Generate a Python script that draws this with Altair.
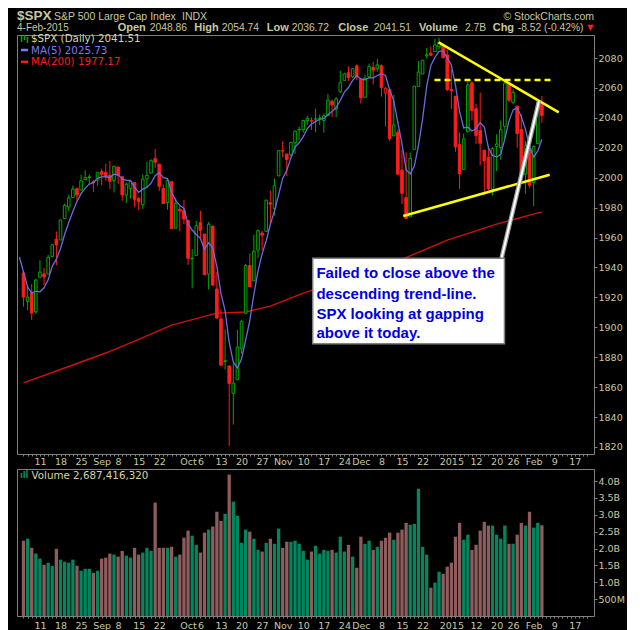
import json
import altair as alt
import pandas as pd

# ---------------- data (S&P 500 daily, 5-Aug-2014 .. 4-Feb-2015) ----------------
pre_closes = [1969.95, 1970.07, 1930.67, 1925.15, 1938.99]  # 29-Jul .. 4-Aug, only feed MA(5)

opens = [
    1936.34, 1917.29, 1923.03, 1910.35, 1933.43, 1935.73, 1935.60, 1947.41, 1958.87, 1958.36,
    1972.73, 1980.46, 1986.82, 1992.60, 1991.74, 1998.59, 2000.54, 1997.42, 1998.45,
    2004.07, 2003.57, 2001.67, 1998.00, 2007.17, 2000.73, 1988.41, 1992.85, 1996.74, 1986.04,
    1981.93, 1999.30, 2003.07, 2012.74, 2009.08, 1992.78, 1983.34, 1997.32, 1966.22, 1978.96, 1978.21,
    1971.44, 1945.83, 1948.12, 1970.01, 1962.36, 1935.55, 1967.68, 1925.63, 1905.65, 1877.11,
    1874.18, 1855.95, 1864.91, 1885.62, 1909.38, 1941.29, 1931.02, 1951.59, 1962.97, 1964.14,
    1983.29, 1979.49, 2001.20,
    2018.21, 2015.81, 2015.29, 2023.33, 2032.36, 2032.01, 2038.20, 2037.75, 2039.21, 2039.74,
    2038.29, 2041.48, 2051.16, 2045.87, 2057.46, 2065.07, 2070.15, 2067.36, 2074.78,
    2065.78, 2053.77, 2067.45, 2073.64, 2072.78, 2074.84, 2056.55, 2058.86, 2027.92, 2030.36,
    2005.03, 1986.71, 1973.77, 2018.98, 2061.04, 2069.28, 2081.48, 2083.25, 2084.30, 2087.63,
    2088.49, 2082.11,
    2058.90, 2054.44, 2022.15, 2005.55, 2030.61, 2063.45, 2046.13, 2031.58, 2018.40, 2013.75,
    1992.25, 2020.76, 2020.19, 2034.30, 2062.98, 2050.42, 2047.86, 2032.34, 2002.45, 2019.35,
    1996.67, 2022.71, 2048.86,
]
highs = [
    1936.34, 1927.91, 1928.89, 1932.38, 1944.90, 1939.65, 1948.41, 1955.23, 1964.04, 1971.99,
    1982.57, 1988.57, 1994.76, 1993.54, 2001.95, 2005.04, 2002.14, 1998.55, 2003.38,
    2006.12, 2009.28, 2011.17, 2007.71, 2007.17, 2001.01, 1996.66, 1997.65, 1996.74, 1987.18,
    2002.28, 2010.74, 2012.34, 2019.26, 2009.08, 1995.41, 1999.79, 1997.32, 1986.37, 1981.28, 1985.17,
    1971.44, 1952.32, 1971.19, 1977.84, 1962.36, 1970.36, 1967.68, 1936.98, 1912.09, 1898.71,
    1874.18, 1876.01, 1898.16, 1905.03, 1942.45, 1949.31, 1961.95, 1965.27, 1964.64, 1985.05,
    1991.40, 1999.40, 2018.19,
    2024.46, 2015.98, 2023.77, 2031.61, 2034.26, 2038.70, 2041.28, 2040.33, 2046.18, 2042.22,
    2043.07, 2056.08, 2052.14, 2053.84, 2071.46, 2070.17, 2074.21, 2073.29, 2075.76,
    2065.78, 2068.77, 2076.28, 2077.34, 2079.47, 2075.78, 2060.60, 2058.86, 2055.53, 2032.25,
    2018.69, 2016.89, 2016.75, 2061.23, 2077.85, 2078.76, 2086.73, 2087.56, 2092.70, 2093.55,
    2088.49, 2085.58,
    2072.36, 2054.44, 2030.25, 2029.61, 2064.08, 2064.43, 2049.30, 2056.93, 2018.40, 2021.35,
    2020.46, 2028.94, 2038.29, 2064.62, 2062.98, 2058.90, 2047.86, 2042.49, 2024.64, 2023.32,
    2021.66, 2050.30, 2054.74,
]
lows = [
    1913.77, 1911.45, 1904.78, 1909.01, 1933.43, 1928.29, 1935.60, 1947.41, 1941.50, 1958.36,
    1972.73, 1977.68, 1986.82, 1984.76, 1991.74, 1998.59, 1996.20, 1990.52, 1994.65,
    1994.85, 1998.14, 1992.44, 1990.10, 1995.60, 1984.61, 1982.99, 1985.93, 1980.26, 1978.48,
    1979.06, 1993.29, 2003.07, 2006.59, 1991.01, 1982.77, 1978.63, 1965.99, 1966.22, 1964.04, 1968.96,
    1941.72, 1926.03, 1948.12, 1958.43, 1935.10, 1925.25, 1927.56, 1906.05, 1874.14, 1871.79,
    1820.66, 1835.02, 1864.91, 1882.30, 1909.38, 1926.83, 1931.02, 1946.27, 1951.37, 1964.14,
    1969.04, 1974.75, 2001.20,
    2013.68, 2001.01, 2014.42, 2015.86, 2025.07, 2030.17, 2035.28, 2031.95, 2030.44, 2035.20,
    2030.20, 2041.48, 2040.37, 2040.49, 2056.75, 2065.07, 2064.75, 2066.62, 2065.06,
    2049.57, 2053.77, 2066.65, 2062.34, 2070.81, 2054.27, 2034.17, 2024.26, 2027.92, 2002.33,
    1982.26, 1972.56, 1973.77, 2018.98, 2061.03, 2069.28, 2079.77, 2081.86, 2084.30, 2085.75,
    2079.53, 2057.94,
    2046.04, 2017.34, 1992.44, 2005.55, 2030.61, 2038.33, 2022.58, 2008.25, 1988.44, 1991.47,
    1988.12, 2004.49, 2012.04, 2026.38, 2050.54, 2049.17, 2019.91, 2001.49, 1989.18, 1993.38,
    1980.90, 2022.71, 2036.72,
]
closes = [
    1920.21, 1920.24, 1909.57, 1931.59, 1936.92, 1933.75, 1946.72, 1955.18, 1955.06, 1971.74,
    1981.60, 1986.51, 1992.37, 1988.40, 1997.92, 2000.02, 2000.12, 1996.74, 2003.37,
    2002.28, 2000.72, 1997.65, 2007.71, 2001.54, 1988.44, 1995.69, 1997.45, 1985.54, 1984.13,
    1998.98, 2001.57, 2011.36, 2010.40, 1994.29, 1982.77, 1998.30, 1965.99, 1982.85, 1977.80, 1972.29,
    1946.16, 1946.17, 1967.90, 1964.82, 1935.10, 1968.89, 1928.21, 1906.13, 1874.74, 1877.70,
    1862.49, 1862.76, 1886.76, 1904.01, 1941.28, 1927.11, 1950.82, 1964.58, 1961.63, 1985.05,
    1982.30, 1994.65, 2018.05,
    2017.81, 2012.10, 2023.57, 2031.21, 2031.92, 2038.26, 2039.68, 2038.25, 2039.33, 2039.82,
    2041.32, 2051.80, 2048.72, 2052.75, 2063.50, 2069.41, 2067.03, 2072.83, 2067.56,
    2053.44, 2066.55, 2074.33, 2071.92, 2075.37, 2060.31, 2059.82, 2026.14, 2035.33, 2002.33,
    1989.63, 1972.74, 2012.89, 2061.23, 2070.65, 2078.54, 2082.17, 2081.88, 2088.77, 2090.57,
    2080.35, 2058.90,
    2058.20, 2020.58, 2002.61, 2025.90, 2062.14, 2044.81, 2028.26, 2023.03, 2011.27, 1992.67,
    2019.42, 2022.55, 2032.12, 2063.15, 2051.82, 2057.09, 2029.55, 2002.16, 2021.25, 1994.99,
    2020.85, 2050.03, 2041.51,
]
volumes_b = [
    2.23, 2.29, 2.02, 1.85, 1.70, 1.52, 1.58, 1.48, 1.99, 1.67,
    1.61, 1.58, 1.67, 1.49, 1.34, 1.40, 1.40, 1.28, 1.34, 1.70,
    1.73, 1.85, 1.82, 1.76, 1.93, 1.79, 1.73, 2.02, 1.82, 1.88,
    2.02, 1.93, 3.36, 2.02, 2.02, 2.02, 2.05, 1.76, 1.82, 2.32,
    2.53, 2.38, 2.11, 1.88, 2.47, 2.56, 2.65, 3.09, 2.82, 3.03,
    4.19, 3.39, 2.97, 2.17, 2.56, 2.50, 2.29, 1.96, 1.91, 2.17,
    2.29, 2.14, 2.59, 2.02, 2.20, 2.20, 2.23, 2.14, 1.93, 1.67,
    1.91, 2.08, 1.85, 1.96, 1.93, 1.96, 1.88, 2.35, 1.91, 2.11,
    1.76, 1.43, 2.35, 2.14, 2.23, 1.96, 2.05, 2.23, 2.32, 2.47,
    2.26, 2.47, 2.56, 2.76, 2.70, 2.73, 3.77, 2.05, 1.82, 0.84,
    0.99, 1.31, 1.25, 1.46, 1.58, 2.35, 2.76, 2.26, 2.41, 1.96,
    2.11, 2.53, 2.79, 2.68, 2.68, 2.41, 2.29, 2.68, 2.14, 2.14,
    2.41, 2.76, 2.68, 3.09, 2.62, 2.76, 2.687,
]

# 200-day moving average (trading-day index, value)
ma200_i = [0, 10, 20, 27, 36, 47, 54, 60, 68, 79, 91, 103, 115, 126]
ma200_v = [1862.8, 1872.8, 1882.8, 1890.8, 1901.5, 1909.5, 1910.2, 1914.2, 1922.9,
           1932.9, 1944.3, 1958.3, 1969.0, 1977.17]

# date axis (trading-day index of the labelled day)
tick_idx = [4, 9, 14, 19, 23, 28, 33, 40, 43, 48, 53, 58, 63, 68, 73, 78, 82, 87, 92, 97,
            104, 110, 115, 119, 124, 129, 134]
tick_lbl = ['11', '18', '25', 'Sep', '8', '15', '22', 'Oct', '6', '13', '20', '27', 'Nov',
            '10', '17', '24', 'Dec', '8', '15', '22', '2015', '12', '20', '26', 'Feb', '9', '17']
bold_lbl = ['Sep', 'Oct', 'Nov', 'Dec', '2015', 'Feb']

# hand-drawn annotations (trading-day index, price)
desc_i, desc_p = [100.9, 130.1], [2090.5, 2043.7]
flat_i, flat_p = [99.9, 128.9], [2065.3, 2065.3]
asc_i, asc_p = [92.3, 127.9], [1974.4, 2002.0]
arrow_i, arrow_p = [116.2, 125.3], [1946.3, 2051.3]
box_i, box_p = [70.3, 116.9], [1889.0, 1946.1]
note_lines = ["Failed to close above the", "descending trend-line.",
              "SPX looking at gapping", "above it today."]
note_i = 71.2
note_p = [1936.3, 1922.3, 1908.9, 1896.2]

assert len(opens) == len(highs) == len(lows) == len(closes) == len(volumes_b) == 127

# ---------------- styling ----------------
BG = "#000000"
KHAKI = "#C8C8A0"
FRAME = "#808080"
UPC, DNC = "#00A800", "#FF1C1C"
VUP, VDN = "#00875F", "#8E5C5C"
MA5C, MA200C = "#6B6BE0", "#D01010"
YEL = "#FFFF00"
W = 577
H_PRICE, H_VOL = 419, 147

N = len(closes)
prev = [pre_closes[-1]] + closes[:-1]
up = [c >= p for c, p in zip(closes, prev)]
cdf = pd.DataFrame({
    "i": list(range(N)), "open": opens, "high": highs, "low": lows, "close": closes,
    "col": [UPC if u else DNC for u in up],
    "vol": [v * 1e9 for v in volumes_b],
    "vcol": [VUP if u else VDN for u in up],
})
cdf["fillc"] = [BG if c > o else k for c, o, k in zip(closes, opens, cdf["col"])]

ma_df = pd.DataFrame({"i": list(range(-len(pre_closes), 0)) + list(range(N)),
                      "close": pre_closes + closes})
ma200_df = pd.DataFrame({"i": ma200_i, "p": ma200_v})

LEXPR = (f"indexof({json.dumps(tick_idx)}, datum.value) >= 0 ? "
         f"{json.dumps(tick_lbl)}[indexof({json.dumps(tick_idx)}, datum.value)] : ''")
FW = {"condition": {"test": f"indexof({json.dumps(bold_lbl)}, datum.label) >= 0",
                    "value": "bold"}, "value": "normal"}

XS = alt.Scale(domain=[-0.36, 137.45], nice=False, zero=False)


def xaxis(pad):
    return alt.Axis(values=list(range(0, 138)), labelExpr=LEXPR, labelFontWeight=FW,
                    ticks=True, tickSize=2, tickColor=FRAME, labelColor=KHAKI,
                    labelFont="DejaVu Sans", labelFontSize=9.5, labelPadding=pad,
                    domain=False, grid=False, title=None, labelOverlap=False,
                    labelAngle=0, labelBound=False, labelFlush=False, labelBaseline="top")


XP = alt.X("i:Q", scale=XS, axis=xaxis(0))
XV = alt.X("i:Q", scale=XS, axis=xaxis(2))

YS = alt.Scale(domain=[1815.3, 2095.4], nice=False, zero=False)
yaxis = alt.Axis(values=list(range(1820, 2081, 20)), orient="right", format="d", tickSize=3,
                 tickColor=FRAME, labelColor=KHAKI, labelFont="DejaVu Sans",
                 labelFontSize=9.5, labelPadding=1, domain=False, grid=False, title=None)


def Y(f):
    return alt.Y(f"{f}:Q", scale=YS, axis=yaxis)


def seg(ii, pp):
    return pd.DataFrame({"i": ii, "p": pp})


# ---------------- price panel ----------------
ma200 = alt.Chart(ma200_df).mark_line(color=MA200C, strokeWidth=1.4, clip=True).encode(
    x=XP, y=Y("p"))
wicks = alt.Chart(cdf).mark_rule(strokeWidth=1, clip=True).encode(
    x=XP, y=Y("low"), y2="high", color=alt.Color("col:N", scale=None))
bodies = alt.Chart(cdf).mark_bar(size=2.6, strokeWidth=1, clip=True).encode(
    x=XP, y=Y("open"), y2="close",
    fill=alt.Fill("fillc:N", scale=None), stroke=alt.Stroke("col:N", scale=None))
ma5 = alt.Chart(ma_df).transform_window(
    ma="mean(close)", frame=[-4, 0], sort=[alt.SortField("i")]
).transform_filter("datum.i >= -1").mark_line(
    color=MA5C, strokeWidth=1.3, clip=True).encode(x=XP, y=Y("ma"))

desc = alt.Chart(seg(desc_i, desc_p)).mark_line(color=YEL, strokeWidth=2.5).encode(x=XP, y=Y("p"))
flat = alt.Chart(seg(flat_i, flat_p)).mark_line(color=YEL, strokeWidth=2.5, strokeDash=[6, 4]).encode(x=XP, y=Y("p"))
asc = alt.Chart(seg(asc_i, asc_p)).mark_line(color=YEL, strokeWidth=2.5).encode(x=XP, y=Y("p"))
arrow_o = alt.Chart(seg(arrow_i, arrow_p)).mark_line(color="#9A9A9A", strokeWidth=4.5).encode(x=XP, y=Y("p"))
arrow_w = alt.Chart(seg(arrow_i, arrow_p)).mark_line(color="#FFFFFF", strokeWidth=2).encode(x=XP, y=Y("p"))
box = alt.Chart(pd.DataFrame({"i": [box_i[0]], "i2": [box_i[1]], "p": [box_p[0]], "p2": [box_p[1]]})
                ).mark_rect(fill="#FFFFFF", stroke=FRAME, strokeWidth=1.5).encode(
    x=XP, x2="i2", y=Y("p"), y2="p2")
note = alt.Chart(pd.DataFrame({"i": [note_i] * 4, "p": note_p, "t": note_lines})).mark_text(
    align="left", baseline="middle", font="Liberation Sans", fontWeight="bold",
    fontSize=15, color="#0000E0").encode(x=XP, y=Y("p"), text="t:N")

one = pd.DataFrame({"a": [0]})


def ptext(txt, x, y, color, size=11, font="DejaVu Sans", weight="normal", align="left",
          baseline="middle"):
    return alt.Chart(one).mark_text(text=txt, color=color, fontSize=size, font=font,
                                    fontWeight=weight, align=align, baseline=baseline
                                    ).encode(x=alt.value(x), y=alt.value(y))


def pline(x1, x2, y1, y2, color, w):
    return alt.Chart(one).mark_rule(color=color, strokeWidth=w).encode(
        x=alt.value(x1), x2=alt.value(x2), y=alt.value(y1), y2=alt.value(y2))


legend_price = [
    pline(4.5, 4.5, 1, 7, UPC, 1.5), pline(7.5, 7.5, 0, 5, UPC, 1.5), pline(10.5, 10.5, 2, 8, UPC, 1.5),
    ptext("$SPX (Daily) 2041.51", 14, 4.2, "#D4D4AC", size=10.3),
    pline(4, 11, 15, 15, "#7B7BFF", 2.5),
    ptext("MA(5) 2025.73", 14, 15.6, "#7B7BFF", size=10.3),
    pline(4, 11, 26.8, 26.8, "#FF1C1C", 2.5),
    ptext("MA(200) 1977.17", 14, 27.2, "#FF1C1C", size=10.3),
]

price = alt.layer(ma200, wicks, bodies, ma5, desc, flat, asc, arrow_o, arrow_w, box, note,
                  *legend_price).properties(width=W, height=H_PRICE)

# ---------------- volume panel ----------------
VS = alt.Scale(domain=[0, 4.356e9], nice=False, zero=True)
vaxis = alt.Axis(values=[5e8, 1e9, 1.5e9, 2e9, 2.5e9, 3e9, 3.5e9, 4e9], orient="right",
                 labelExpr="datum.value < 1e9 ? '500M' : format(datum.value/1e9, '.1f') + 'B'",
                 tickSize=3, tickColor=FRAME, labelColor=KHAKI, labelFont="DejaVu Sans",
                 labelFontSize=9.5, labelPadding=1, domain=False, grid=False, title=None)
vbars = alt.Chart(cdf).mark_bar(size=3.3, clip=True).encode(
    x=XV, y=alt.Y("vol:Q", scale=VS, axis=vaxis), color=alt.Color("vcol:N", scale=None))
legend_vol = [
    pline(4.5, 4.5, 4, 9, VUP, 1.6), pline(7.2, 7.2, 2, 9, VUP, 1.6), pline(9.9, 9.9, 1, 9, VUP, 1.6),
    ptext("Volume 2,687,416,320", 14.5, 6.5, "#D4D4AC", size=10.3),
]
volume = alt.layer(vbars, *legend_vol).properties(width=W, height=H_VOL)

# ---------------- header ----------------
HF = "Liberation Sans"
hdr_items = [
    ptext("$SPX", 0, 9, KHAKI, size=13.5, font=HF, weight="bold", baseline="alphabetic"),
    ptext("S&P 500 Large Cap Index", 37, 9, KHAKI, size=10.5, font=HF, baseline="alphabetic"),
    ptext("INDX", 165, 9, KHAKI, size=10.5, font=HF, baseline="alphabetic"),
    ptext("© StockCharts.com", 577, 9, KHAKI, size=10.5, font=HF, align="right", baseline="alphabetic"),
    ptext("4-Feb-2015", 0, 19.6, KHAKI, size=10, font=HF, baseline="alphabetic"),
]
line2 = [("Open", 100.7, "bold"), ("2048.86", 132.7, "normal"), ("High", 177.3, "bold"),
         ("2054.74", 204.7, "normal"), ("Low", 249.7, "bold"), ("2036.72", 274.7, "normal"),
         ("Close", 321.3, "bold"), ("2041.51", 356.7, "normal"), ("Volume", 402, "bold"),
         ("2.7B", 448, "normal"), ("Chg", 475.7, "bold"), ("-8.52 (-0.42%)", 500.7, "normal")]
for t, x, wgt in line2:
    hdr_items.append(ptext(t, x, 19.6, KHAKI, size=11 if wgt == "bold" else 10.3, font=HF,
                           weight=wgt, baseline="alphabetic"))
hdr_items.append(ptext("▼", 573.3, 18.8, "#FF1C1C", size=8, align="center", baseline="alphabetic"))
header = alt.layer(*hdr_items).properties(width=W, height=9,
                                          view=alt.ViewBackground(stroke="transparent"))

chart = alt.vconcat(header, price, volume, spacing=15, bounds="flush").properties(
    padding={"left": 8, "top": 0, "right": 2, "bottom": 2},
    background=BG,
).configure_view(stroke=FRAME, strokeWidth=1)

chart.save("out.html", embed_options={"renderer": "svg", "actions": False})
